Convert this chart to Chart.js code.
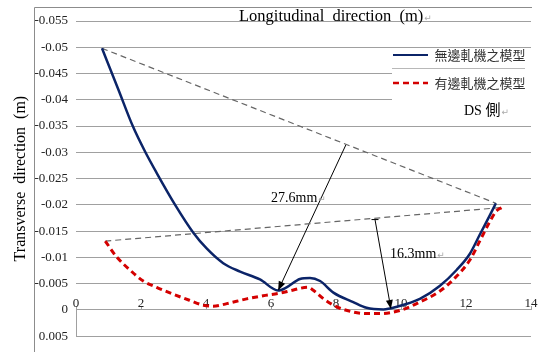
<!DOCTYPE html>
<html>
<head>
<meta charset="utf-8">
<script src="https://cdn.jsdelivr.net/npm/chart.js@4.4.1/dist/chart.umd.min.js"></script>
<style>
  html, body { margin: 0; padding: 0; background: #fff; }
</style>
</head>
<body>
<canvas id="chart" width="544" height="352"></canvas>
<script>
// axis ticks
const xTicks = [0, 2, 4, 6, 8, 10, 12, 14];
const yTicks = [-0.055, -0.05, -0.045, -0.04, -0.035, -0.03, -0.025, -0.02, -0.015, -0.01, -0.005, 0, 0.005];

// 無邊軋機之模型 (solid navy)
const plainX = [0.8, 1.3, 1.76, 2.12, 2.48, 3.05, 3.61, 4.02, 4.53, 5.05, 5.66, 6.22, 6.48, 6.89, 7.2, 7.51, 7.92, 8.53, 8.94, 9.46, 9.87, 10.58, 11.2, 11.71, 12.12, 12.43, 12.74, 12.92];
const plainY = [-0.0498, -0.042, -0.0348, -0.0302, -0.0261, -0.02, -0.0147, -0.0117, -0.0089, -0.0073, -0.0058, -0.0037, -0.0043, -0.0059, -0.0061, -0.0055, -0.0033, -0.0015, -0.0004, -0.0001, -0.0006, -0.0021, -0.0046, -0.0076, -0.0107, -0.0144, -0.0181, -0.0203];

// 有邊軋機之模型 (dashed red)
const edgeX = [0.9, 1.25, 1.66, 2.07, 2.48, 2.99, 3.51, 3.92, 4.22, 4.64, 5.25, 5.76, 6.28, 6.69, 7.12, 7.33, 7.62, 8.02, 8.53, 8.94, 9.35, 9.97, 10.58, 11.2, 11.71, 12.12, 12.43, 12.74, 12.93, 13.1];
const edgeY = [-0.0131, -0.0101, -0.0076, -0.0055, -0.0043, -0.003, -0.0018, -0.0009, -0.0007, -0.0012, -0.0021, -0.0027, -0.0032, -0.0038, -0.0043, -0.0036, -0.0021, -0.0006, 0.0004, 0.0007, 0.0007, 0.0001, -0.0015, -0.0036, -0.0064, -0.0095, -0.0132, -0.0169, -0.0188, -0.0195];

// gray dashed chords and the two measurement arrows
const chordTopX = [0.8, 12.92];
const chordTopY = [-0.0498, -0.0203];
const chordLowX = [0.9, 13.1];
const chordLowY = [-0.0131, -0.0195];
const arrowAX = [8.31, 6.22];
const arrowAY = [-0.0315, -0.0037];
const arrowBX = [9.2, 9.69];
const arrowBY = [-0.0172, -0.0002];

const SERIF = '"Liberation Serif", "Times New Roman", serif';
const CJK = '"Noto Sans CJK TC", "Noto Sans CJK SC", sans-serif';

function pts(xs, ys) {
    return xs.map((x, i) => ({x: x, y: ys[i]}));
}

function arrowHead(ctx, x1, y1, x2, y2) {
    const a = Math.atan2(y2 - y1, x2 - x1), len = 9, w = 3.5;
    ctx.beginPath();
    ctx.moveTo(x2, y2);
    ctx.lineTo(x2 - len * Math.cos(a) + w * Math.sin(a), y2 - len * Math.sin(a) - w * Math.cos(a));
    ctx.lineTo(x2 - len * Math.cos(a) - w * Math.sin(a), y2 - len * Math.sin(a) + w * Math.cos(a));
    ctx.closePath();
    ctx.fill();
}

function label(ctx, text, x, y, font) {
    ctx.font = font;
    ctx.fillStyle = '#000';
    ctx.textAlign = 'left';
    ctx.textBaseline = 'alphabetic';
    ctx.fillText(text, x, y);
    const w = ctx.measureText(text).width;
    // Word paragraph mark
    ctx.font = '9px "DejaVu Sans"';
    ctx.fillStyle = '#aaa';
    ctx.fillText('\u21B5', x + w + 1, y);
}

const decor = {
    id: 'decor',
    afterLayout(chart) {
        const lg = chart.legend;
        lg.left = 378; lg.top = 33.5; lg.right = 544; lg.bottom = 140;
    },
    afterDatasetsDraw(chart) {
        const ctx = chart.ctx;
        const {x, y} = chart.scales;
        ctx.save();

        // arrowheads
        ctx.fillStyle = '#000';
        arrowHead(ctx, x.getPixelForValue(arrowAX[0]), y.getPixelForValue(arrowAY[0]),
            x.getPixelForValue(arrowAX[1]), y.getPixelForValue(arrowAY[1]));
        const bx1 = x.getPixelForValue(arrowBX[0]), by1 = y.getPixelForValue(arrowBY[0]);
        const bx2 = x.getPixelForValue(arrowBX[1]), by2 = y.getPixelForValue(arrowBY[1]);
        arrowHead(ctx, bx1, by1, bx2, by2);
        ctx.strokeStyle = '#000';
        ctx.lineWidth = 1;
        ctx.beginPath();
        ctx.moveTo(bx1 - 3.5, by1);
        ctx.lineTo(bx1 + 3.5, by1);
        ctx.stroke();

        // short y axis stub below the x axis
        ctx.strokeStyle = '#a0a0a0';
        ctx.beginPath();
        ctx.moveTo(Math.round(x.getPixelForValue(0)) + 0.5, y.getPixelForValue(0));
        ctx.lineTo(Math.round(x.getPixelForValue(0)) + 0.5, y.getPixelForValue(0.005));
        ctx.stroke();

        // outer frame (left and top)
        ctx.strokeStyle = '#8c8c8c';
        ctx.beginPath();
        ctx.moveTo(34.5, 352);
        ctx.lineTo(34.5, 7.5);
        ctx.lineTo(532, 7.5);
        ctx.stroke();

        // legend box
        ctx.fillStyle = '#fff';
        ctx.fillRect(392, 50, 142, 50);
        ctx.strokeStyle = '#b8b8b8';
        ctx.beginPath();
        ctx.moveTo(392, 68.5);
        ctx.lineTo(525, 68.5);
        ctx.stroke();
        ctx.restore();
        chart.legend.draw();

        ctx.save();
        label(ctx, 'Longitudinal  direction  (m)', 239, 20.5, '16.5px ' + SERIF);
        label(ctx, '27.6mm', 271, 202, '14px ' + SERIF);
        label(ctx, '16.3mm', 390, 258, '14px ' + SERIF);
        ctx.font = '14px ' + SERIF;
        ctx.fillStyle = '#000';
        ctx.textAlign = 'left';
        ctx.fillText('DS ', 464, 115);
        label(ctx, '側', 464 + ctx.measureText('DS ').width, 115, '15px ' + CJK);
        ctx.restore();
    }
};

new Chart(document.getElementById('chart'), {
    type: 'line',
    data: {
        datasets: [
            {
                label: '無邊軋機之模型',
                data: pts(plainX, plainY),
                borderColor: '#0b2468',
                backgroundColor: 'transparent',
                borderWidth: 2.5,
                pointRadius: 0,
                cubicInterpolationMode: 'monotone'
            },
            {
                label: '有邊軋機之模型',
                data: pts(edgeX, edgeY),
                borderColor: '#d40000',
                backgroundColor: 'transparent',
                borderWidth: 3,
                borderDash: [6, 4],
                pointRadius: 0,
                cubicInterpolationMode: 'monotone'
            },
            {
                label: 'chord1',
                data: pts(chordTopX, chordTopY),
                borderColor: '#666',
                borderWidth: 1.2,
                borderDash: [6, 4],
                pointRadius: 0
            },
            {
                label: 'chord2',
                data: pts(chordLowX, chordLowY),
                borderColor: '#666',
                borderWidth: 1.2,
                borderDash: [6, 4],
                pointRadius: 0
            },
            {
                label: 'arrow1',
                data: pts(arrowAX, arrowAY),
                borderColor: '#000',
                borderWidth: 1,
                pointRadius: 0
            },
            {
                label: 'arrow2',
                data: pts(arrowBX, arrowBY),
                borderColor: '#000',
                borderWidth: 1,
                pointRadius: 0
            }
        ]
    },
    options: {
        responsive: false,
        animation: false,
        layout: { padding: { left: 0, right: 13, top: 21, bottom: 7 } },
        plugins: {
            legend: {
                position: 'chartArea',
                align: 'start',
                labels: {
                    usePointStyle: true,
                    pointStyle: 'line',
                    pointStyleWidth: 35,
                    boxWidth: 35,
                    boxHeight: 13,
                    padding: 15,
                    color: '#333',
                    font: { family: CJK, size: 13 },
                    filter: item => item.datasetIndex < 2,
                    // point-style items lose the dataset dash, so copy it back
                    generateLabels: chart => Chart.defaults.plugins.legend.labels.generateLabels(chart).map(item => {
                        const ds = chart.data.datasets[item.datasetIndex];
                        item.lineDash = ds.borderDash || [];
                        item.lineWidth = item.datasetIndex === 0 ? 2 : 2.5;
                        item.strokeStyle = ds.borderColor;
                        return item;
                    })
                }
            },
            tooltip: { enabled: false }
        },
        scales: {
            x: {
                type: 'linear',
                min: 0,
                max: 14,
                position: { y: 0 },
                afterBuildTicks: s => { s.ticks = xTicks.map(v => ({value: v})); },
                grid: { drawOnChartArea: false, drawTicks: true, tickLength: -4, color: '#a0a0a0' },
                border: { display: true, color: '#a0a0a0', width: 1 },
                ticks: { padding: -10, color: '#222', font: { family: SERIF, size: 13 }, maxRotation: 0, autoSkip: false }
            },
            y: {
                type: 'linear',
                reverse: true,
                min: -0.055,
                max: 0.005,
                afterBuildTicks: s => { s.ticks = yTicks.map(v => ({value: v})); },
                afterFit: s => { s.width = 76; },
                grid: { color: '#a0a0a0', drawTicks: false },
                border: { display: false },
                ticks: {
                    padding: 8,
                    color: '#222',
                    font: { family: SERIF, size: 13 },
                    callback: v => String(parseFloat(v.toFixed(3)))
                },
                title: {
                    display: true,
                    text: 'Transverse  direction  (m)',
                    color: '#000',
                    font: { family: SERIF, size: 16 },
                    padding: { top: 11, bottom: 0 }
                }
            }
        }
    },
    plugins: [decor]
});
</script>
</body>
</html>
